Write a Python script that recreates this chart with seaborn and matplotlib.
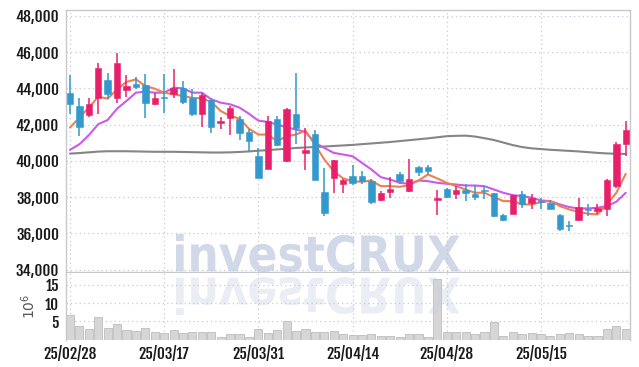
import numpy as np
import pandas as pd
import matplotlib
matplotlib.use("Agg")
import matplotlib.pyplot as plt
import matplotlib.transforms as mtransforms
from matplotlib.textpath import TextPath
from matplotlib.patches import PathPatch
from matplotlib.font_manager import FontProperties
from matplotlib.ticker import FuncFormatter
import seaborn as sns

# trading days (tick labels every 10 sessions)
tick_pos = [0, 10, 20, 30, 40, 50]
tick_labels = ["25/02/28", "25/03/17", "25/03/31", "25/04/14", "25/04/28", "25/05/15"]

opens = [43725, 43030, 42515, 43485, 44460, 43485, 43890, 44220, 44165, 43120,
         43540, 43705, 44000, 43485, 42605, 43360, 42110, 42350, 42295, 41595,
         40255, 39560, 42310, 39980, 42605, 40440, 41485, 38275, 39065, 38735,
         39155, 39155, 38915, 37815, 38295, 39250, 38350, 39650, 39650, 37855,
         38475, 38185, 38365, 38185, 38385, 38200, 37010, 37080, 38145, 37690,
         37780, 37690, 37010, 36460, 36715, 37320, 37230, 37360, 38640, 40955]
highs = [44715, 43450, 43485, 45375, 44825, 45965, 44715, 44640, 44770, 43750,
         44770, 45045, 44405, 43945, 43760, 43485, 42420, 43025, 42475, 41745,
         40715, 42460, 42460, 42920, 44850, 41815, 41725, 39615, 40050, 38990,
         39760, 39430, 39025, 38330, 39100, 39375, 40110, 39705, 39760, 38420,
         38510, 38605, 38735, 38660, 38605, 38240, 37065, 38110, 38330, 38145,
         37965, 37815, 37065, 36695, 37925, 37595, 37635, 39000, 41045, 42185]
lows = [42570, 41375, 42440, 42570, 43395, 43175, 43540, 43945, 42385, 43100,
        42660, 43485, 43120, 42475, 41890, 41560, 41780, 41415, 41155, 40550,
        39030, 39540, 40805, 39950, 40955, 39485, 38950, 36955, 38240, 38240,
        38695, 38735, 37595, 37800, 37945, 38735, 38300, 39155, 39250, 37025,
        37965, 37870, 37780, 37835, 37870, 36930, 36660, 37045, 37375, 37320,
        37320, 37320, 36145, 36145, 36700, 36955, 37080, 36970, 38515, 40295]
closes = [43155, 41890, 43135, 45100, 43705, 45375, 44130, 44090, 43175, 43450,
          43470, 44000, 43265, 42605, 43635, 41890, 42185, 42900, 41560, 41100,
          39065, 42185, 40860, 42860, 41815, 40625, 38970, 37135, 40035, 38970,
          38770, 38880, 37745, 38200, 38475, 38880, 39025, 39395, 39430, 37925,
          38000, 38420, 38240, 38000, 38330, 36955, 36735, 38090, 37595, 37925,
          37725, 37360, 36240, 36385, 37450, 37265, 37415, 38970, 40955, 41690]

ma5 = [41835, 42385, 42935, 43540, 43430, 43945, 44350, 44495, 44130, 43980,
       43760, 43670, 43580, 43470, 43450, 43250, 42750, 42480, 42330, 41770,
       41450, 41450, 41085, 41360, 41450, 41670, 40900, 40075, 39430, 39030,
       38880, 38845, 38915, 38605, 38605, 38570, 38660, 38915, 39250, 39030,
       38790, 38605, 38420, 38240, 38240, 38000, 37780, 37780, 37595, 37595,
       37725, 37780, 37505, 37320, 37190, 37080, 37045, 37595, 38240, 39285]
ma20 = [40605, 40915, 41415, 42020, 42255, 42880, 43305, 43760, 43815, 43760,
        43760, 44035, 44000, 43760, 43760, 43395, 43210, 43120, 42935, 42600,
        42220, 42145, 42000, 41855, 41725, 41595, 40990, 40715, 40440, 40350,
        40255, 39890, 39525, 39100, 38970, 38790, 38735, 38915, 38880, 38790,
        38735, 38695, 38640, 38640, 38605, 38420, 38240, 38110, 38055, 37965,
        37815, 37780, 37595, 37450, 37375, 37375, 37415, 37505, 37745, 38240]
ma120 = [40400, 40430, 40470, 40510, 40530, 40530, 40530, 40520, 40510, 40500,
         40500, 40500, 40490, 40480, 40470, 40460, 40460, 40470, 40490, 40520,
         40560, 40590, 40630, 40670, 40710, 40740, 40760, 40790, 40820, 40850,
         40880, 40920, 40960, 41000, 41040, 41090, 41140, 41190, 41240, 41300,
         41360, 41380, 41390, 41340, 41250, 41150, 41010, 40870, 40760, 40690,
         40650, 40610, 40580, 40550, 40520, 40480, 40440, 40410, 40390, 40380]

volume = [6.7, 3.7, 2.9, 6.3, 3.3, 4.3, 2.6, 2.3, 3.3, 2.0,
          1.7, 2.6, 1.7, 2.0, 2.0, 2.0, 0.8, 1.5, 1.5, 0.8,
          2.8, 1.9, 2.6, 5.1, 2.3, 2.8, 2.1, 2.1, 2.3, 1.5,
          1.3, 1.2, 1.5, 1.0, 1.0, 0.8, 1.5, 1.5, 0.6, 16.6,
          2.0, 2.0, 2.0, 1.5, 2.0, 4.7, 1.1, 2.0, 1.5, 1.8,
          1.5, 1.1, 1.5, 1.8, 1.5, 1.1, 1.1, 2.8, 3.7, 2.8]

UP = "#e8206c"
DOWN = "#3399cc"
GRID = "#c9cad8"
SPINE = "#c8c8cc"

sns.set_style("white")
plt.rcParams["font.family"] = ["Fjalla One", "Roboto Condensed", "DejaVu Sans"]

df = pd.DataFrame({"idx": np.arange(len(closes)), "open": opens, "high": highs,
                   "low": lows, "close": closes, "ma5": ma5, "ma20": ma20,
                   "ma120": ma120, "volume": volume})

fig = plt.figure(figsize=(6.39, 3.67), dpi=100)
ax = fig.add_axes([66 / 639, 1 - 272 / 367, 564 / 639, 262 / 367])
axv = fig.add_axes([66 / 639, 1 - 339.5 / 367, 564 / 639, 66.5 / 367])

# moving averages
sns.lineplot(data=df, x="idx", y="ma120", color="#858585", linewidth=1.5, ax=ax, zorder=2)
sns.lineplot(data=df, x="idx", y="ma20", color="#cc5ae8", linewidth=1.5, ax=ax, zorder=2)
sns.lineplot(data=df, x="idx", y="ma5", color="#ee8050", linewidth=1.5, ax=ax, zorder=2)

# candles
up = df["close"] >= df["open"]
colors = np.where(up, UP, DOWN)
ax.vlines(df["idx"], df["low"], df["high"], colors=colors, linewidth=1.1, zorder=3)
body_lo = np.minimum(df["open"], df["close"])
body_h = np.maximum(np.abs(df["close"] - df["open"]), 60)
ax.bar(df["idx"], body_h, bottom=body_lo, width=0.68, color=colors,
       edgecolor=colors, linewidth=0.4, zorder=4)

ax.set_xlim(-0.42, 59.45)
ax.set_ylim(33870, 48320)
ax.set_yticks(range(34000, 48001, 2000))
ax.yaxis.set_major_formatter(FuncFormatter(lambda v, p: f"{int(v):,}"))
ax.set_xticks(tick_pos)
ax.set_xticklabels([])
ax.set_xlabel("")
ax.set_ylabel("")

# volume
sns.barplot(data=df, x="idx", y="volume", native_scale=True, color="#d6d6d6",
            edgecolor="#bdbdbd", linewidth=0.6, width=0.86, ax=axv, zorder=2)
axv.set_xlim(-0.42, 59.45)
axv.set_ylim(0, 18.3)
axv.set_yticks([5, 10, 15])
axv.set_xticks(tick_pos)
axv.set_xticklabels(tick_labels)
axv.set_xlabel("")
axv.set_ylabel(r"$10^6$", fontsize=10, color="#555555", labelpad=5)

for a in (ax, axv):
    a.grid(True, color=GRID, linestyle=(0, (1, 2.5)), linewidth=0.9)
    a.set_axisbelow(True)
    a.tick_params(length=0, labelsize=11, labelcolor="#1a1a1a", pad=5)
    for s in a.spines.values():
        s.set_color(SPINE)
        s.set_linewidth(1.0)
axv.spines["bottom"].set_visible(False)
axv.spines["top"].set_visible(False)

# watermark with reflection
fp = FontProperties(family="DejaVu Sans", weight="bold")
tp = TextPath((0, 0), "investCRUX", size=1, prop=fp)
ext = tp.get_extents()
sx = (460 - 176) / ext.width
sy = (272 - 234) / ext.height
base = 367 - 272
main_tr = mtransforms.Affine2D().translate(-ext.x0, -ext.y0).scale(sx, sy).translate(176, base)
refl_tr = mtransforms.Affine2D().translate(-ext.x0, -ext.y0).scale(sx, -sy).translate(176, base - 5)
fig.add_artist(PathPatch(tp, transform=main_tr, facecolor="#b9c3dc", edgecolor="none",
                         alpha=0.65, zorder=10))
fig.add_artist(PathPatch(tp, transform=refl_tr, facecolor="#c4cce0", edgecolor="none",
                         alpha=0.35, zorder=10))

fig.savefig("out.png", dpi=100)
